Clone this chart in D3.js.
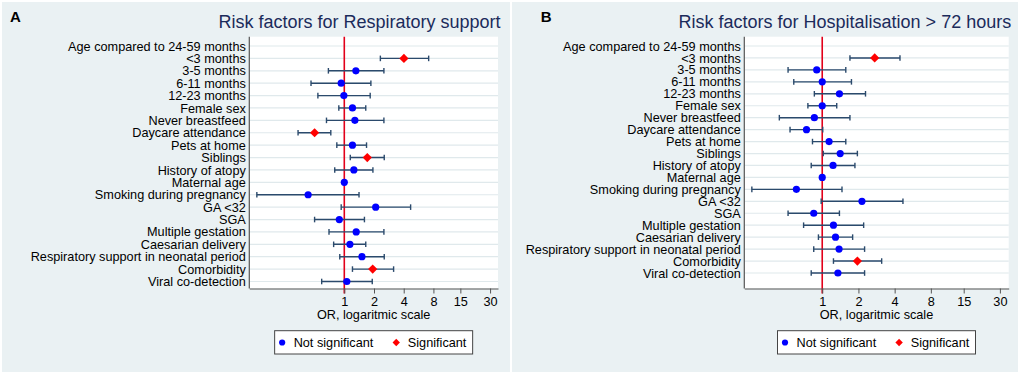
<!DOCTYPE html>
<html>
<head>
<meta charset="utf-8">
<script src="https://cdn.jsdelivr.net/npm/d3@7"></script>
<style>
body { margin: 0; background: #fff; }
svg text { font-family: "Liberation Sans", Arial, sans-serif; }
</style>
</head>
<body>
<div id="chart"></div>
<script>
// row labels, top to bottom
var factors = ['Age compared to 24-59 months', '<3 months', '3-5 months', '6-11 months', '12-23 months',
    'Female sex', 'Never breastfeed', 'Daycare attendance', 'Pets at home', 'Siblings',
    'History of atopy', 'Maternal age', 'Smoking during pregnancy', 'GA <32', 'SGA',
    'Multiple gestation', 'Caesarian delivery', 'Respiratory support in neonatal period',
    'Comorbidity', 'Viral co-detection'];

var xTicks = [1, 2, 4, 8, 15, 30];

// panel A - respiratory support
var orA  = [null, 4.02, 1.31, 0.93, 0.99, 1.21, 1.28, 0.50, 1.21, 1.71, 1.25, 1.00, 0.43, 2.08, 0.89, 1.32, 1.14, 1.51, 1.94, 1.06];
var loA  = [null, 2.32, 0.69, 0.46, 0.54, 0.88, 0.66, 0.34, 0.84, 1.15, 0.80, 0.99, 0.13, 0.93, 0.50, 0.70, 0.78, 0.90, 1.21, 0.59];
var hiA  = [null, 7.16, 2.52, 1.86, 1.83, 1.65, 2.52, 0.73, 1.68, 2.54, 1.95, 1.01, 1.41, 4.70, 1.60, 2.52, 1.65, 2.54, 3.16, 1.92];
var sigA = [0, 1, 0, 0, 0, 0, 0, 1, 0, 1, 0, 0, 0, 0, 0, 0, 0, 0, 1, 0];

// panel B - hospitalisation > 72 hours
var orB  = [null, 2.73, 0.90, 1.00, 1.39, 1.00, 0.86, 0.74, 1.14, 1.41, 1.23, 1.00, 0.61, 2.14, 0.85, 1.24, 1.29, 1.38, 1.96, 1.35];
var loB  = [null, 1.70, 0.52, 0.58, 0.86, 0.76, 0.44, 0.54, 0.83, 1.02, 0.81, 0.99, 0.26, 0.98, 0.52, 0.70, 0.93, 0.85, 1.24, 0.81];
var hiB  = [null, 4.43, 1.57, 1.75, 2.29, 1.32, 1.70, 1.01, 1.57, 1.96, 1.87, 1.01, 1.46, 4.69, 1.39, 2.21, 1.79, 2.25, 3.12, 2.25];
var sigB = [0, 1, 0, 0, 0, 0, 0, 0, 0, 0, 0, 0, 0, 0, 0, 0, 0, 0, 1, 0];

var legendLabels = ['Not significant', 'Significant'];

var width = 1020, height = 376;
var svg = d3.select('#chart').append('svg')
    .attr('width', width)
    .attr('height', height);

var panels = [
    { letter: 'A', letterX: 10, title: 'Risk factors for Respiratory support', bg: [2, 510],
      left: 249.3, right: 498, xdom: [0.109, 36.1], rowTop: 46, rowBottom: 281.5,
      or: orA, lo: loA, hi: hiA, sig: sigA },
    { letter: 'B', letterX: 540.7, title: 'Risk factors for Hospitalisation > 72 hours', bg: [512, 1018],
      left: 744.3, right: 1008.7, xdom: [0.225, 35.5], rowTop: 46, rowBottom: 273,
      or: orB, lo: loB, hi: hiB, sig: sigB }
];

var plotTop = 36.7, plotBottom = 288.5;
var barColor = '#2b4a6c', refColor = '#e2001a', axisColor = '#555';

function diamond(cx, cy, r) {
    return 'M' + cx + ',' + (cy - r) + 'L' + (cx + r) + ',' + cy + 'L' + cx + ',' + (cy + r) + 'L' + (cx - r) + ',' + cy + 'Z';
}

panels.forEach(function (p) {
    var g = svg.append('g');

    // stata-ish graph region
    g.append('rect')
        .attr('x', p.bg[0]).attr('y', 2)
        .attr('width', p.bg[1] - p.bg[0]).attr('height', 370)
        .attr('fill', '#eaf1f3');
    g.append('rect')
        .attr('x', p.left).attr('y', plotTop)
        .attr('width', p.right - p.left).attr('height', plotBottom - plotTop)
        .attr('fill', '#fff');

    var x = d3.scaleLog().base(2).domain(p.xdom).range([p.left, p.right]);
    var y = d3.scaleLinear().domain([0, factors.length - 1]).range([p.rowTop, p.rowBottom]);

    // grid lines
    g.append('g').selectAll('line')
        .data(factors)
        .enter().append('line')
        .attr('x1', p.left).attr('x2', p.right)
        .attr('y1', function (d, i) { return y(i); })
        .attr('y2', function (d, i) { return y(i); })
        .attr('stroke', '#e0e9ec')
        .attr('stroke-width', 1.2);

    // row labels
    g.append('g').selectAll('text')
        .data(factors)
        .enter().append('text')
        .attr('x', p.left - 3.5)
        .attr('y', function (d, i) { return y(i); })
        .attr('dy', '0.36em')
        .attr('text-anchor', 'end')
        .attr('font-size', '12.7px')
        .attr('fill', '#000')
        .text(function (d) { return d; });

    // reference line at OR = 1
    g.append('line')
        .attr('x1', x(1)).attr('x2', x(1))
        .attr('y1', plotTop).attr('y2', plotBottom + 5)
        .attr('stroke', refColor)
        .attr('stroke-width', 1.6);

    // axes
    var xAxis = d3.axisBottom(x)
        .tickValues(xTicks)
        .tickFormat(d3.format('d'))
        .tickSize(5)
        .tickSizeOuter(0);
    var xAxisG = g.append('g')
        .attr('transform', 'translate(0,' + plotBottom + ')')
        .call(xAxis);
    xAxisG.select('.domain').attr('stroke', axisColor).attr('stroke-width', 1.2);
    xAxisG.selectAll('.tick line').attr('stroke', axisColor);
    xAxisG.selectAll('.tick text')
        .attr('font-size', '12.7px')
        .attr('font-family', '"Liberation Sans", Arial, sans-serif')
        .attr('fill', '#000')
        .attr('y', 8);

    g.append('line')
        .attr('x1', p.left).attr('x2', p.left)
        .attr('y1', plotTop).attr('y2', plotBottom)
        .attr('stroke', axisColor)
        .attr('stroke-width', 1.2);

    g.append('text')
        .attr('x', (p.left + p.right) / 2)
        .attr('y', 318.5)
        .attr('text-anchor', 'middle')
        .attr('font-size', '12.7px')
        .text('OR, logaritmic scale');

    // confidence intervals
    var rows = factors.map(function (f, i) {
        return { i: i, or: p.or[i], lo: p.lo[i], hi: p.hi[i], sig: p.sig[i] };
    }).filter(function (d) { return d.or != null; });

    var ci = g.append('g').selectAll('g')
        .data(rows)
        .enter().append('g')
        .attr('stroke', barColor)
        .attr('stroke-width', 1.4);
    ci.append('line')
        .attr('x1', function (d) { return x(d.lo); })
        .attr('x2', function (d) { return x(d.hi); })
        .attr('y1', function (d) { return y(d.i); })
        .attr('y2', function (d) { return y(d.i); });
    ci.append('line')
        .attr('x1', function (d) { return x(d.lo); })
        .attr('x2', function (d) { return x(d.lo); })
        .attr('y1', function (d) { return y(d.i) - 2.8; })
        .attr('y2', function (d) { return y(d.i) + 2.8; });
    ci.append('line')
        .attr('x1', function (d) { return x(d.hi); })
        .attr('x2', function (d) { return x(d.hi); })
        .attr('y1', function (d) { return y(d.i) - 2.8; })
        .attr('y2', function (d) { return y(d.i) + 2.8; });

    // point estimates
    g.append('g').selectAll('circle')
        .data(rows.filter(function (d) { return !d.sig; }))
        .enter().append('circle')
        .attr('cx', function (d) { return x(d.or); })
        .attr('cy', function (d) { return y(d.i); })
        .attr('r', 3.6)
        .attr('fill', '#0000ff');
    g.append('g').selectAll('path')
        .data(rows.filter(function (d) { return d.sig; }))
        .enter().append('path')
        .attr('d', function (d) { return diamond(x(d.or), y(d.i), 4.6); })
        .attr('fill', '#ff0000');

    // titles
    g.append('text')
        .attr('x', p.letterX)
        .attr('y', 21.7)
        .attr('font-size', '15px')
        .attr('font-weight', 'bold')
        .text(p.letter);
    g.append('text')
        .attr('x', p.right + 2.5)
        .attr('y', 28.3)
        .attr('text-anchor', 'end')
        .attr('font-size', '18px')
        .attr('fill', '#1b2b5b')
        .text(p.title);

    // legend
    var lx = (p.left + p.right) / 2 - 99;
    var leg = g.append('g').attr('transform', 'translate(' + lx + ',330.7)');
    leg.append('rect')
        .attr('width', 198).attr('height', 23.3)
        .attr('fill', '#fff')
        .attr('stroke', '#444')
        .attr('stroke-width', 1);
    leg.append('circle').attr('cx', 7.5).attr('cy', 11.8).attr('r', 3.1).attr('fill', '#0000ff');
    leg.append('path').attr('d', diamond(121.6, 11.8, 3.7)).attr('fill', '#ff0000');
    leg.selectAll('text')
        .data(legendLabels)
        .enter().append('text')
        .attr('x', function (d, i) { return i ? 133.2 : 19; })
        .attr('y', 16)
        .attr('font-size', '12.7px')
        .text(function (d) { return d; });
});
</script>
</body>
</html>
